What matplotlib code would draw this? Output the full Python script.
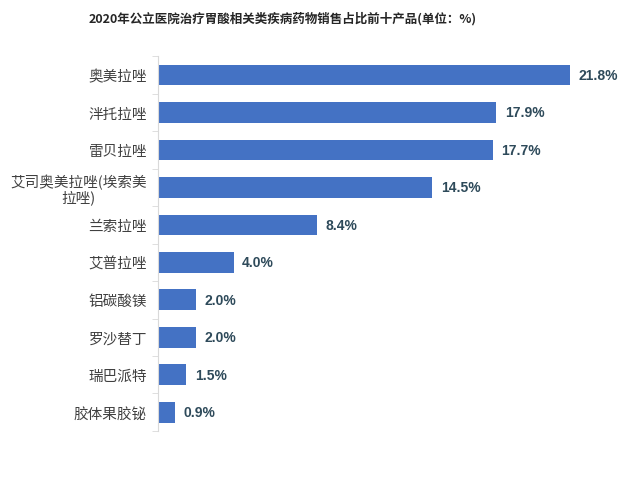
import matplotlib
matplotlib.use("Agg")
import matplotlib.pyplot as plt
import numpy as np

plt.rcParams['font.family'] = ['Noto Sans CJK SC', 'DejaVu Sans']

# -----------------------------------
# DATA
# -----------------------------------

products = [
    "奥美拉唑",
    "泮托拉唑",
    "雷贝拉唑",
    "艾司奥美拉唑(埃索美\n拉唑)",
    "兰索拉唑",
    "艾普拉唑",
    "铝碳酸镁",
    "罗沙替丁",
    "瑞巴派特",
    "胶体果胶铋",
]

shares = [21.8, 17.9, 17.7, 14.5, 8.4, 4.0, 2.0, 2.0, 1.5, 0.9]

title = "2020年公立医院治疗胃酸相关类疾病药物销售占比前十产品(单位：%)"

# -----------------------------------
# PLOT
# -----------------------------------

fig = plt.figure(figsize=(6.4, 4.81), dpi=100)
ax = fig.add_axes([0.247, 0.102, 0.694, 0.779])

y = np.arange(len(products))
ax.barh(y, shares, height=0.55, color="#4472C4")

for yi, v in zip(y, shares):
    ax.text(v + 0.45, yi, f"{v:.1f}%", va="center", ha="left",
            fontsize=10, fontweight="bold", color="#2E4A5A",
            family=["Liberation Sans", "DejaVu Sans"])

ax.set_xlim(0, 23.5)
ax.set_ylim(9.5, -0.5)
ax.set_yticks(y)
ax.set_yticklabels(products, fontsize=10.5, color="#404040",
                   multialignment="center", linespacing=1.0)
ax.set_yticks(np.arange(-0.5, 10, 1), minor=True)
ax.tick_params(axis="y", which="major", length=0, pad=8)
ax.tick_params(axis="y", which="minor", length=4, color="#D9D9D9")
ax.set_xticks([])

for side in ["top", "right", "bottom"]:
    ax.spines[side].set_visible(False)
ax.spines["left"].set_color("#D9D9D9")

fig.text(0.442, 0.962, title, ha="center", va="center",
         fontsize=9, fontweight="bold", color="#262626")

fig.savefig("out.png", dpi=100)
